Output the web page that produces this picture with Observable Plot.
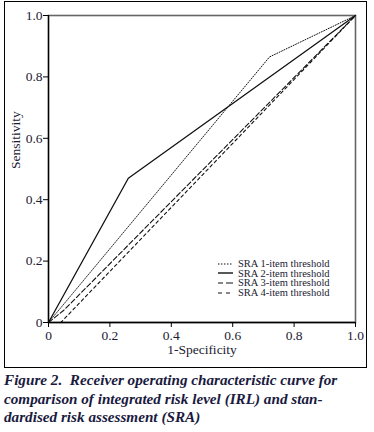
<!DOCTYPE html>
<html>
<head>
<meta charset="utf-8">
<script src="https://cdn.jsdelivr.net/npm/d3@7"></script>
<script src="https://cdn.jsdelivr.net/npm/@observablehq/plot@0.6"></script>
<style>
  html, body { margin: 0; padding: 0; background: #fff; }
  #wrap { position: relative; width: 374px; height: 432px; overflow: hidden; }
  #outer { position: absolute; left: 4px; top: 1px; width: 363px; height: 367px; box-sizing: border-box; border: 1.5px solid #000; pointer-events: none; }
  #legend { position: absolute; left: 218px; top: 259px; font-family: "Liberation Serif", "Times New Roman", serif; font-size: 10.5px; color: #1b1b33; line-height: 9.6px; }
  #legend .row { display: flex; align-items: center; height: 9.6px; white-space: nowrap; }
  #legend svg { margin-right: 5px; }
  #caption { position: absolute; left: 4px; top: 371px; font-family: "Liberation Serif", "Times New Roman", serif; font-weight: bold; font-style: italic; font-size: 15.2px; line-height: 18.5px; color: #1a1a40; white-space: pre; }
</style>
</head>
<body>
<div id="wrap">
  <div id="chart"></div>
  <div id="outer"></div>
  <div id="legend"></div>
  <div id="caption"></div>
</div>
<script>
// Series names and their ROC points (1-Specificity, Sensitivity)
const seriesNames = ["SRA 1-item threshold", "SRA 2-item threshold", "SRA 3-item threshold", "SRA 4-item threshold"];
const fpr1 = [0, 0.72, 1];
const tpr1 = [0, 0.865, 1];
const fpr2 = [0, 0.26, 1];
const tpr2 = [0, 0.47, 1];
const fpr3 = [0, 0.05, 1];
const tpr3 = [0, 0.04, 1];
const fpr4 = [0, 0.04, 1];
const tpr4 = [0, 0.0, 1];
const xTicks = [0, 0.2, 0.4, 0.6, 0.8, 1.0];
const xTickLabels = ["0", "0.2", "0.4", "0.6", "0.8", "1.0"];
const yTicks = [0, 0.2, 0.4, 0.6, 0.8, 1.0];
const yTickLabels = ["0", "0.2", "0.4", "0.6", "0.8", "1.0"];
const xLabel = "1-Specificity";
const yLabel = "Sensitivity";
const captionLines = [
  "Figure 2.  Receiver operating characteristic curve for",
  "comparison of integrated risk level (IRL) and stan-",
  "dardised risk assessment (SRA)"
];

const dashes = ["1,1.6", null, "5,2.5", "3,3"];
const widths = [1, 1.3, 1.1, 1.1];

const fprs = [fpr1, fpr2, fpr3, fpr4];
const tprs = [tpr1, tpr2, tpr3, tpr4];
const rows = [];
seriesNames.forEach((s, i) => {
  fprs[i].forEach((x, j) => rows.push({series: s, x, y: tprs[i][j]}));
});

const ink = "#1b1b33";
const lineMarks = seriesNames.map((s, i) =>
  Plot.line(rows.filter(d => d.series === s), {
    x: "x", y: "y", stroke: "#111", strokeWidth: widths[i],
    strokeDasharray: dashes[i] || undefined
  })
);

const chart = Plot.plot({
  width: 374,
  height: 370,
  marginLeft: 48,
  marginRight: 19,
  marginTop: 15,
  marginBottom: 48,
  style: { fontFamily: "'Liberation Serif', 'Times New Roman', serif", background: "transparent", color: ink },
  x: { domain: [0, 1] },
  y: { domain: [0, 1] },
  marks: [
    Plot.frame({ stroke: "#666", strokeWidth: 1.6 }),
    ...lineMarks,
    Plot.ruleX([0], { stroke: "#000", strokeWidth: 1.3 }),
    Plot.ruleY([0], { stroke: "#000", strokeWidth: 1.3 }),
    Plot.axisX(xTicks, { tickSize: 5, tickPadding: 3, fontSize: 13.5, label: null, stroke: "#000",
      tickFormat: (d) => xTickLabels[xTicks.indexOf(d)] }),
    Plot.axisY(yTicks, { tickSize: 5, tickPadding: 1, fontSize: 13.5, label: null, stroke: "#000",
      tickFormat: (d) => yTickLabels[yTicks.indexOf(d)] }),
    Plot.text([xLabel], { frameAnchor: "bottom", dy: 31, fontSize: 13.5, fill: ink }),
    Plot.text([yLabel], { frameAnchor: "left", dx: -33, rotate: -90, fontSize: 13.5, fill: ink })
  ]
});
document.getElementById("chart").appendChild(chart);

// Legend
const legend = document.getElementById("legend");
seriesNames.forEach((s, i) => {
  const row = document.createElement("div");
  row.className = "row";
  const dash = i === 2 ? "5,3,3,0" : i === 3 ? "4,4" : dashes[i];
  row.innerHTML = `<svg width="15" height="4"><line x1="0" y1="2" x2="15" y2="2" stroke="#111" stroke-width="${i===1?1.4:1.2}" ${dash ? `stroke-dasharray="${i===0?'1.5,1.5':dash}"` : ""}/></svg><span>${s}</span>`;
  legend.appendChild(row);
});

document.getElementById("caption").textContent = captionLines.join("\n");
</script>
</body>
</html>
